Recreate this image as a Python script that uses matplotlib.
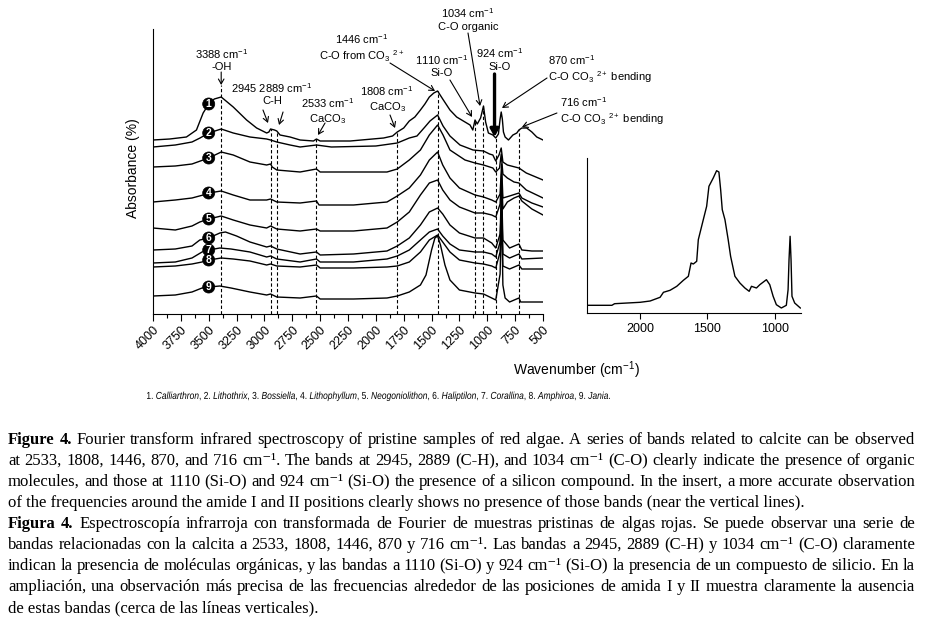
import matplotlib
matplotlib.use('Agg')
import matplotlib.pyplot as plt
from matplotlib.font_manager import FontProperties
from matplotlib.textpath import TextPath
from matplotlib.patches import PathPatch
from matplotlib.transforms import Affine2D, IdentityTransform
import numpy as np

plt.rcParams['font.family'] = ['Liberation Sans', 'DejaVu Sans']
plt.rcParams['mathtext.fontset'] = 'custom'
plt.rcParams['mathtext.rm'] = 'Liberation Sans'
plt.rcParams['mathtext.it'] = 'Liberation Sans:italic'
plt.rcParams['mathtext.bf'] = 'Liberation Sans:bold'

# bands marked with dashed lines (cm-1)
bands = [3388, 2945, 2889, 2533, 1808, 1446, 1110, 1034, 924, 716]

genera = ['Calliarthron', 'Lithothrix', 'Bossiella', 'Lithophyllum',
          'Neogoniolithon', 'Haliptilon', 'Corallina', 'Amphiroa', 'Jania']

# spectra: (wavenumber, absorbance, arbitrary offset units)
calliarthron = [(4000, 174), (3850, 175), (3700, 177), (3610, 184), (3550, 201),
                (3500, 210), (3450, 215), (3388, 217), (3280, 207), (3160, 194),
                (3070, 186), (2980, 181), (2960, 182), (2945, 185), (2910, 184),
                (2889, 183), (2860, 179), (2770, 177), (2680, 174), (2560, 173),
                (2533, 175), (2500, 173), (2230, 173), (1930, 176), (1850, 178),
                (1808, 182), (1750, 186), (1700, 193), (1650, 197), (1600, 204),
                (1560, 210), (1520, 217), (1480, 221), (1446, 223), (1400, 215),
                (1335, 204), (1275, 197), (1200, 192), (1155, 189), (1130, 184),
                (1110, 194), (1090, 190), (1060, 196), (1034, 208), (1015, 192),
                (990, 181), (950, 179), (924, 176), (900, 180), (885, 195),
                (875, 202), (865, 195), (855, 182), (840, 177), (810, 174),
                (770, 179), (735, 181), (716, 184), (690, 186), (646, 186),
                (600, 182), (556, 177), (500, 174)]
lithothrix = [(4000, 167), (3800, 169), (3650, 172), (3578, 176), (3500, 181),
              (3388, 185), (3280, 181), (3130, 177), (2980, 175), (2945, 174),
              (2889, 172), (2770, 169), (2680, 167), (2533, 169), (2400, 167),
              (2000, 168), (1808, 171), (1700, 176), (1631, 178), (1560, 187),
              (1514, 193), (1446, 199), (1397, 188), (1335, 178), (1245, 169),
              (1128, 164), (1034, 163), (980, 160), (950, 159), (924, 153),
              (895, 159), (875, 166), (860, 152), (820, 149), (716, 146),
              (650, 141), (500, 134)]
bossiella = [(4000, 147), (3800, 148), (3650, 150), (3600, 152), (3500, 156),
             (3388, 162), (3280, 159), (3130, 152), (2980, 149), (2945, 150),
             (2930, 147), (2889, 144), (2680, 142), (2533, 145), (2500, 142),
             (2200, 142), (1900, 142), (1808, 145), (1700, 154), (1600, 164),
             (1520, 179), (1446, 189), (1397, 179), (1335, 164), (1200, 154),
             (1110, 151), (1034, 149), (950, 146), (924, 142), (890, 146),
             (875, 160), (860, 140), (820, 136), (760, 132), (716, 131),
             (650, 124), (500, 116)]
lithophyllum = [(4000, 112), (3800, 114), (3650, 116), (3550, 119), (3500, 121),
                (3388, 123), (3280, 119), (3130, 114), (2980, 114), (2945, 115),
                (2889, 112), (2680, 111), (2533, 113), (2510, 109), (2200, 109),
                (1900, 112), (1808, 118), (1700, 126), (1600, 139), (1520, 154),
                (1446, 162), (1400, 149), (1335, 136), (1250, 126), (1110, 119),
                (1034, 117), (960, 114), (924, 112), (885, 120), (872, 150),
                (860, 116), (800, 118), (716, 121), (690, 116), (600, 111),
                (500, 107)]
neogoniolithon = [(4000, 86), (3800, 84), (3650, 88), (3580, 92), (3500, 95),
                  (3388, 98), (3280, 94), (3130, 89), (2980, 86), (2945, 88),
                  (2889, 85), (2680, 83), (2533, 85), (2500, 83), (2200, 83),
                  (1900, 86), (1808, 92), (1700, 102), (1600, 119), (1520, 131),
                  (1446, 134), (1400, 124), (1335, 114), (1250, 107), (1110, 101),
                  (1034, 101), (960, 99), (924, 97), (885, 110), (872, 140),
                  (860, 105), (820, 112), (760, 116), (716, 118), (690, 113),
                  (600, 105), (500, 99)]
haliptilon = [(4000, 64), (3800, 65), (3650, 68), (3580, 74), (3500, 76),
              (3400, 81), (3350, 82), (3250, 78), (3130, 72), (2980, 67),
              (2945, 68), (2889, 65), (2680, 60), (2533, 62), (2500, 59),
              (2200, 60), (1900, 63), (1808, 68), (1700, 76), (1600, 89),
              (1520, 102), (1446, 106), (1400, 100), (1335, 89), (1250, 81),
              (1110, 76), (1034, 76), (960, 71), (924, 66), (885, 80),
              (872, 128), (860, 74), (800, 66), (716, 70), (690, 64),
              (600, 63), (500, 63)]
corallina = [(4000, 51), (3800, 52), (3650, 56), (3560, 62), (3500, 64),
             (3400, 66), (3300, 65), (3130, 62), (2980, 57), (2945, 58),
             (2889, 55), (2680, 52), (2533, 55), (2500, 52), (2200, 52),
             (1900, 55), (1808, 58), (1700, 64), (1600, 74), (1520, 82),
             (1446, 85), (1400, 78), (1335, 70), (1250, 64), (1110, 62),
             (1034, 62), (960, 60), (924, 57), (885, 72), (872, 118),
             (860, 60), (800, 56), (716, 60), (690, 55), (500, 56)]
amphiroa = [(4000, 47), (3800, 48), (3650, 50), (3560, 52), (3500, 54),
            (3388, 56), (3280, 55), (3130, 53), (2980, 49), (2945, 50),
            (2889, 48), (2680, 47), (2533, 49), (2500, 46), (2200, 46),
            (1900, 47), (1808, 48), (1700, 52), (1600, 62), (1520, 74),
            (1446, 79), (1400, 72), (1335, 62), (1250, 54), (1110, 51),
            (1034, 50), (960, 48), (924, 46), (885, 62), (872, 112),
            (860, 48), (800, 45), (716, 49), (690, 45), (500, 45)]
jania = [(4000, 18), (3800, 19), (3650, 22), (3560, 26), (3500, 27),
         (3400, 28), (3300, 26), (3130, 22), (2980, 19), (2945, 20),
         (2889, 17), (2680, 16), (2533, 18), (2500, 15), (2200, 15),
         (1900, 16), (1808, 18), (1700, 22), (1600, 29), (1550, 39),
         (1500, 64), (1470, 76), (1446, 78), (1420, 69), (1380, 49),
         (1335, 34), (1250, 24), (1110, 21), (1034, 20), (960, 16),
         (924, 14), (885, 40), (872, 105), (860, 29), (840, 16),
         (800, 12), (716, 16), (700, 12), (500, 12)]

# insert: single spectrum, 2400-800 cm-1
insert_spectrum = [(2395, 7.7), (2210, 7.7), (2190, 9.3), (2000, 10.7), (1926, 12),
                   (1852, 15.7), (1827, 20.7), (1778, 22.7), (1728, 26.7),
                   (1679, 32.7), (1642, 36.7), (1622, 50), (1605, 49),
                   (1580, 51.7), (1568, 73.3), (1531, 93.3), (1506, 106.7),
                   (1489, 126.7), (1457, 135), (1432, 142.3), (1415, 141),
                   (1402, 123.3), (1390, 103.3), (1370, 93.3), (1346, 73.3),
                   (1328, 56.7), (1296, 36.7), (1259, 30), (1222, 25),
                   (1190, 21.7), (1173, 26.7), (1136, 25), (1111, 28.3),
                   (1062, 33.3), (1037, 28.3), (1012, 16.7), (988, 8.3),
                   (951, 5), (914, 7.7), (901, 23.3), (894, 53.3), (886, 76.7),
                   (879, 53.3), (872, 16.7), (852, 10), (810, 5)]

SUP = 'cm\u207b\u00b9'
caption = [
    ("*Figure *4. Fourier transform infrared spectroscopy of pristine samples of red algae. "
     "A series of bands related to calcite can be observed", True),
    (f"at 2533, 1808, 1446, 870, and 716 {SUP}. The bands at 2945, 2889 (C-H), and "
     f"1034 {SUP} (C-O) clearly indicate the presence of organic", True),
    (f"molecules, and those at 1110 (Si-O) and 924 {SUP} (Si-O) the presence of a "
     "silicon compound. In the insert, a more accurate observation", True),
    ("of the frequencies around the amide I and II positions clearly shows no presence "
     "of those bands (near the vertical lines).", False),
    ("*Figura *4. Espectroscopía infrarroja con transformada de Fourier de muestras "
     "pristinas de algas rojas. Se puede observar una serie de", True),
    (f"bandas relacionadas con la calcita a 2533, 1808, 1446, 870 y 716 {SUP}. Las "
     f"bandas a 2945, 2889 (C-H) y 1034 {SUP} (C-O) claramente", True),
    ("indican la presencia de moléculas orgánicas, y las bandas a 1110 (Si-O) y 924 "
     f"{SUP} (Si-O) la presencia de un compuesto de silicio. En la", True),
    ("ampliación, una observación más precisa de las frecuencias alrededor de las "
     "posiciones de amida I y II muestra claramente la ausencia", True),
    ("de estas bandas (cerca de las líneas verticales).", False),
]

W, H = 927, 620
CAP_SIZE = 12
SERIF = ['Liberation Serif', 'DejaVu Serif']


def fx(px):
    return px / W


def fy(py):
    return 1 - py / H


def arrow(ax, start, end, lw=0.8, style='->,head_length=0.35,head_width=0.2'):
    ax.annotate('', xy=end, xytext=start, annotation_clip=False,
                arrowprops=dict(arrowstyle=style, lw=lw, color='black',
                                shrinkA=0, shrinkB=0))


def caption_line(fig, renderer, text, baseline, justify, x0=8, x1=915):
    if not justify:
        words = [w.lstrip('*') for w in text.split(' ')]
        fig.text(fx(x0), fy(baseline), ' '.join(words), fontsize=CAP_SIZE,
                 family=SERIF, va='baseline', ha='left')
        return
    objs = []
    for word in text.split(' '):
        bold = word.startswith('*')
        t = fig.text(0, fy(baseline), word.lstrip('*'), fontsize=CAP_SIZE,
                     family=SERIF, fontweight='bold' if bold else 'normal',
                     va='baseline', ha='left')
        objs.append(t)
    widths = [t.get_window_extent(renderer).width for t in objs]
    gap = (x1 - x0 - sum(widths)) / (len(objs) - 1)
    x = x0
    for t, w in zip(objs, widths):
        t.set_x(fx(x))
        x += w + gap


def footnote(fig, x0, x1, py, size_pt=7.3):
    # condensed sans text: glyph outlines squeezed to the printed width
    s = ', '.join(f'{i + 1}. $\\mathit{{{g}}}$' for i, g in enumerate(genera)) + '.'
    size_px = size_pt * fig.dpi / 72
    tp = TextPath((0, 0), s, size=size_px, prop=FontProperties(family='Liberation Sans'))
    ext = tp.get_extents()
    sx = (x1 - x0) / ext.width
    tr = Affine2D().translate(-ext.x0, 0).scale(sx, 1).translate(x0, H - py)
    fig.add_artist(PathPatch(tr.transform_path(tp), fc='black', ec='none',
                             transform=IdentityTransform()))


def main():
    fig = plt.figure(figsize=(W / 100, H / 100), dpi=100)
    renderer = fig.canvas.get_renderer()

    ax = fig.add_axes([fx(153), fy(314), fx(543 - 153), (314 - 29) / H])
    spectra = [calliarthron, lithothrix, bossiella, lithophyllum, neogoniolithon,
               haliptilon, corallina, amphiroa, jania]
    for i, spec in enumerate(spectra):
        wn, ab = np.array(spec, dtype=float).T
        ax.plot(wn, ab, color='black', lw=1.0, zorder=3)
        y = np.interp(3500, wn[::-1], ab[::-1])
        ax.text(3500, y, str(i + 1), ha='center', va='center', color='white',
                fontsize=7.5, fontweight='bold', zorder=5,
                bbox=dict(boxstyle='circle,pad=0.1', fc='black', ec='black', lw=0.5))

    wn1, ab1 = np.array(calliarthron, dtype=float).T
    tops = np.interp(bands, wn1[::-1], ab1[::-1])
    tops[0] += 12
    ax.vlines(bands, 0, tops, colors='black', linestyles=(0, (3, 2)), lw=0.8, zorder=2)

    ax.set_xlim(4000, 500)
    ax.set_ylim(0, 285)
    ax.set_xticks(np.arange(4000, 499, -250))
    ax.set_xticks(np.arange(3875, 500, -250), minor=True)
    ax.set_yticks([])
    ax.tick_params(axis='x', which='major', direction='out', length=5, width=0.8,
                   labelsize=9, pad=2)
    ax.tick_params(axis='x', which='minor', direction='out', length=3, width=0.8)
    for lab in ax.get_xticklabels():
        lab.set_rotation(45)
        lab.set_ha('right')
        lab.set_rotation_mode('anchor')
    for side in ('top', 'right'):
        ax.spines[side].set_visible(False)
    ax.spines['left'].set_linewidth(0.8)
    ax.spines['bottom'].set_linewidth(0.8)

    # band labels
    fs = 8
    kw = dict(fontsize=fs, ha='center', va='center', linespacing=1.15, clip_on=False)
    ax.text(3388, 254, '3388 cm$^{-1}$\n-OH', **kw)
    arrow(ax, (3388, 242), (3388, 229))
    ax.text(2932, 220, '2945 2889 cm$^{-1}$\nC-H', **kw)
    arrow(ax, (3013, 204), (2968, 191))
    arrow(ax, (2833, 202), (2869, 189))
    ax.text(2430, 203, '2533 cm$^{-1}$\nCaCO$_3$', **kw)
    arrow(ax, (2456, 191), (2519, 179))
    ax.text(1900, 215, '1808 cm$^{-1}$\nCaCO$_3$', **kw)
    arrow(ax, (1873, 199), (1828, 186))
    ax.text(2124, 266, '1446 cm$^{-1}$\nC-O from CO$_3$ $^{2+}$', **kw)
    arrow(ax, (1873, 251), (1469, 223))
    ax.text(1406, 248, '1110 cm$^{-1}$\nSi-O', **kw)
    arrow(ax, (1335, 234), (1137, 197))
    ax.text(1173, 295, '1034 cm$^{-1}$\nC-O organic', **kw)
    arrow(ax, (1173, 281), (1065, 208))
    ax.text(886, 255, '924 cm$^{-1}$\nSi-O', **kw)
    arrow(ax, (935, 240), (935, 177), lw=2.4,
          style='-|>,head_length=0.45,head_width=0.25')
    kw_left = dict(kw, ha='left')
    ax.text(455, 245, '870 cm$^{-1}$\nC-O CO$_3$ $^{2+}$ bending', **kw_left)
    arrow(ax, (464, 236), (868, 206))
    ax.text(348, 203, '716 cm$^{-1}$\nC-O CO$_3$ $^{2+}$ bending', **kw_left)
    arrow(ax, (375, 201), (689, 187))

    # insert
    axi = fig.add_axes([fx(587), fy(313), fx(801 - 587), (313 - 158) / H])
    iwn, iab = np.array(insert_spectrum, dtype=float).T
    axi.plot(iwn, iab, color='black', lw=1.0)
    axi.set_xlim(2395, 805)
    axi.set_ylim(0, 155)
    axi.set_xticks([2000, 1500, 1000])
    axi.set_yticks([])
    axi.tick_params(axis='x', direction='out', length=4, width=0.8, labelsize=9)
    for side in ('top', 'right'):
        axi.spines[side].set_visible(False)
    axi.spines['left'].set_linewidth(0.8)
    axi.spines['bottom'].set_linewidth(0.8)

    fig.text(fx(576), fy(370), 'Wavenumber (cm$^{-1}$)', fontsize=10,
             ha='center', va='center')
    fig.text(fx(133), fy(168), 'Absorbance (%)', fontsize=10, rotation=90,
             ha='center', va='center')

    footnote(fig, 147, 610, 399)

    for i, (line, justify) in enumerate(caption):
        caption_line(fig, renderer, line, 444 + 21 * i, justify)

    fig.savefig('out.png', dpi=100, facecolor='white')


if __name__ == '__main__':
    main()
